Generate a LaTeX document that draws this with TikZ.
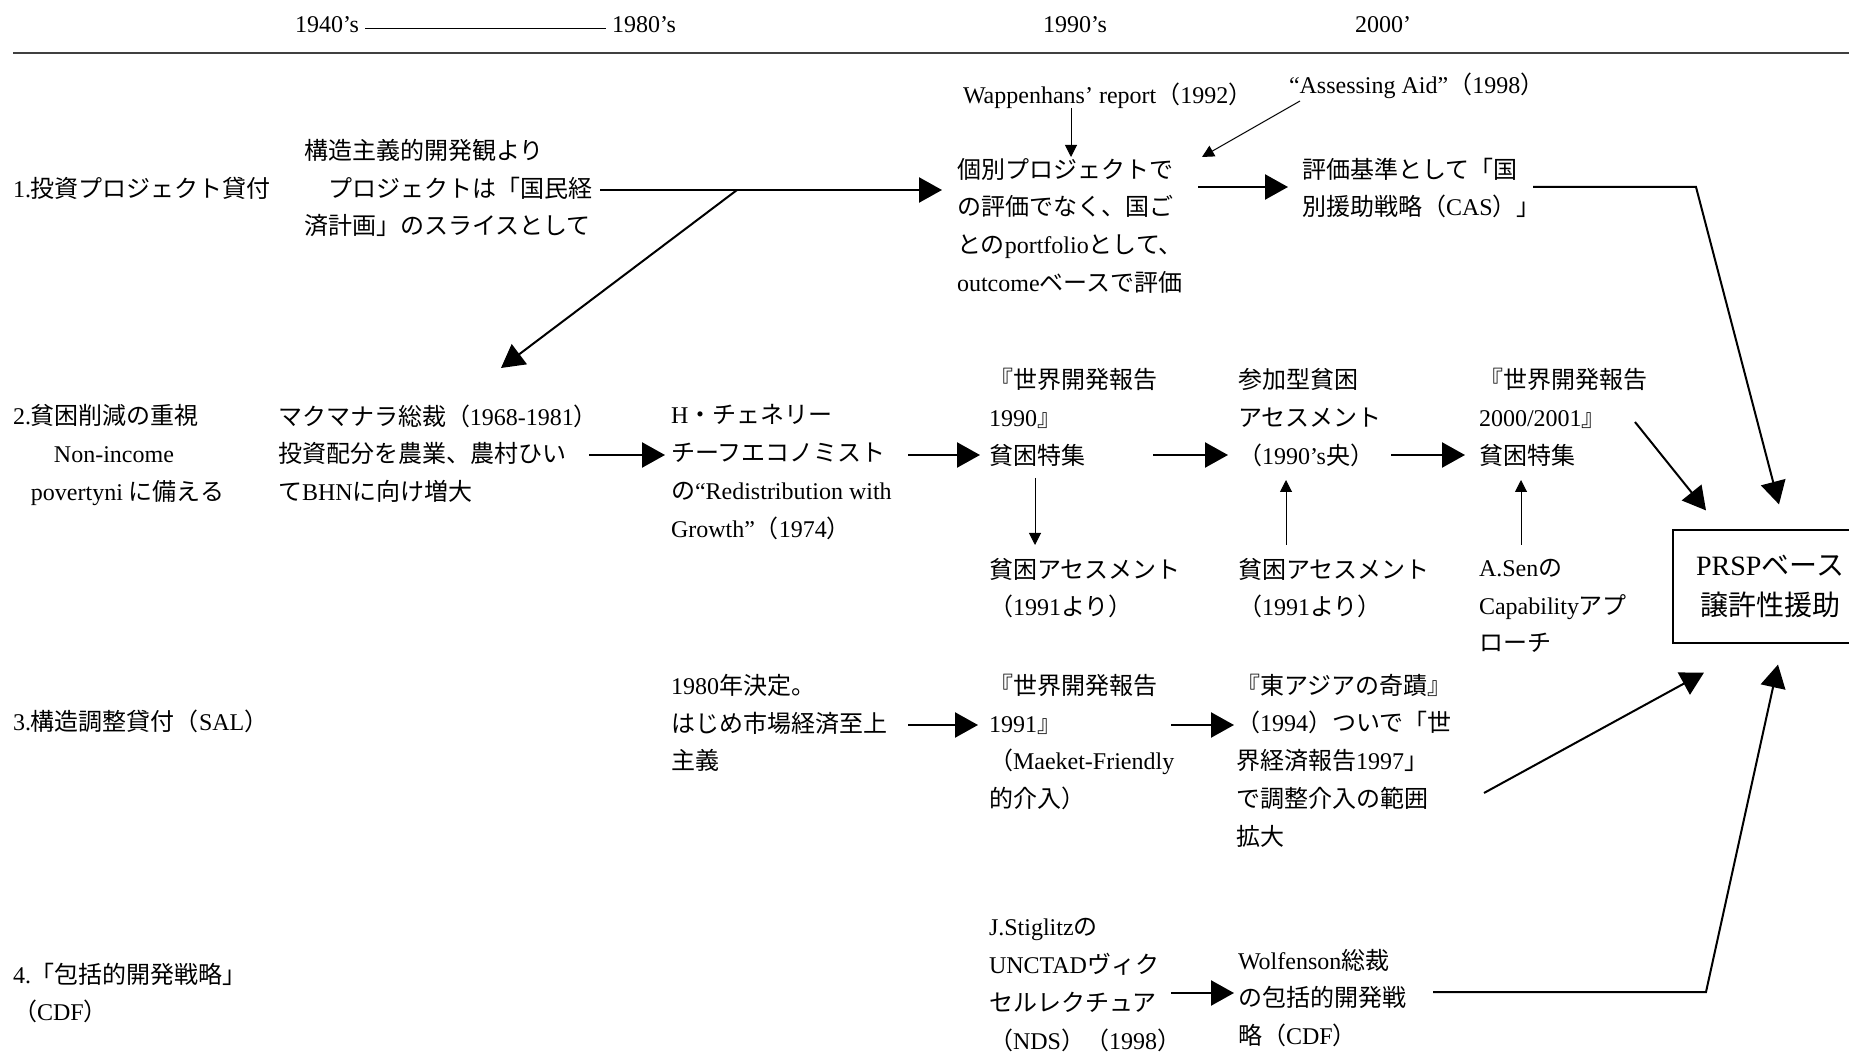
\documentclass[tikz,border=0pt]{standalone}
\usepackage{fontspec}
\setmainfont{Liberation Serif}
\newfontfamily\jpfont{Noto Sans CJK JP}
\usetikzlibrary{arrows.meta,calc}
% automatic switch between Latin (serif) and Japanese (gothic)
\XeTeXinterchartokenstate=1
\newXeTeXintercharclass\JPclass
\newcount\jpcnt
\def\setjprange#1#2{\jpcnt=#1\relax
  \loop\XeTeXcharclass\jpcnt=\JPclass
  \ifnum\jpcnt<#2\advance\jpcnt by 1\repeat}
\setjprange{"3000}{"30FF}
\setjprange{"4E00}{"9FFF}
\setjprange{"FF00}{"FFEF}
\XeTeXcharclass"2018=0 \XeTeXcharclass"2019=0
\XeTeXcharclass"201C=0 \XeTeXcharclass"201D=0
\XeTeXinterchartoks 0 \JPclass = {\jpfont}
\XeTeXinterchartoks 4095 \JPclass = {\jpfont}
\XeTeXinterchartoks \JPclass 0 = {\rmfamily}
\XeTeXinterchartoks \JPclass 4095 = {\rmfamily}
\tikzset{
  txt/.style={anchor=west, inner sep=0pt, outer sep=0pt, align=left,
    font=\fontsize{12}{18.85}\selectfont},
  yr/.style={inner sep=0pt, outer sep=0pt, font=\fontsize{12}{14}\selectfont},
  bigarrow/.style={line width=1.2pt, -{Triangle[length=11.5pt,width=12.5pt]}},
  midarrow/.style={line width=1pt, -{Triangle[length=11.5pt,width=12.5pt]}},
  thinarrow/.style={line width=0.5pt, -{Triangle[length=6pt,width=6pt]}},
  boxnode/.style={draw, line width=0.6pt, minimum width=97pt, minimum height=56.5pt,
    inner sep=0pt, align=center, font=\fontsize{14}{20}\selectfont},
}
\begin{document}
\begin{tikzpicture}[x=0.5pt,y=-0.5pt]
\useasboundingbox (0,0) rectangle (1849,1053);
\clip (0,0) rectangle (1849,1053);

% header
\node[yr, anchor=west] (y40) at (295,25) {1940’s};
\node[yr, anchor=west] (y80) at (612,25) {1980’s};
\node[yr] (y90) at (1075,25) {1990’s};
\node[yr] (y00) at (1383,25) {2000’};
\draw[line width=0.5pt] ($(y40.east)+(6,4)$) -- ($(y80.west)+(-6,4)$);
\coordinate (ruleL) at (13,53);
\coordinate (ruleR) at (1849,53);
\draw[line width=1pt, black!75] (ruleL) -- (ruleR);

% row 1
\node[txt] (r1) at (13,188) {1.投資プロジェクト貸付};
\node[txt] (a1) at (304,188) {構造主義的開発観より\\　プロジェクトは「国民経\\済計画」のスライスとして};
\node[txt] (b1) at (957,225.5) {個別プロジェクトで\\の評価でなく、国ご\\とのportfolioとして、\\outcomeベースで評価};
\node[txt] (wap) at (963,96) {Wappenhans’ report（1992）};
\node[txt] (ass) at (1289,86) {“Assessing Aid”（1998）};
\node[txt] (c1) at (1302,188) {評価基準として「国\\別援助戦略（CAS）」};

% row 2
\node[txt] (r2) at (13,455) {2.貧困削減の重視\\\hspace*{20.5pt}Non-income\\\hspace*{9pt}povertyni に備える};
\node[txt] (a2) at (278,453.5) {マクマナラ総裁（1968-1981）\\投資配分を農業、農村ひい\\てBHNに向け増大};
\node[txt] (b2) at (671,472) {H・チェネリー\\チーフエコノミスト\\の“Redistribution with\\Growth”（1974）};
\node[txt] (c2) at (989,417.5) {『世界開発報告\\1990』\\貧困特集};
\node[txt] (c2b) at (989,588) {貧困アセスメント\\（1991より）};
\node[txt] (d2) at (1238,417.5) {参加型貧困\\アセスメント\\（1990’s央）};
\node[txt] (d2b) at (1238,588) {貧困アセスメント\\（1991より）};
\node[txt] (e2) at (1479,417.5) {『世界開発報告\\2000/2001』\\貧困特集};
\node[txt] (e2b) at (1479,606) {A.Senの\\Capabilityアプ\\ローチ};
\node[boxnode] (prsp) at (1770,586.5) {PRSPベース\\譲許性援助};

% row 3
\node[txt] (r3) at (13,721) {3.構造調整貸付（SAL）};
\node[txt] (a3) at (671,723) {1980年決定。\\はじめ市場経済至上\\主義};
\node[txt] (b3) at (989,742) {『世界開発報告\\1991』\\（Maeket-Friendly\\的介入）};
\node[txt] (c3) at (1236,760.5) {『東アジアの奇蹟』\\（1994）ついで「世\\界経済報告1997」\\で調整介入の範囲\\拡大};

% row 4
\node[txt] (r4) at (13,993) {4.「包括的開発戦略」\\（CDF）};
\node[txt] (b4) at (989,985) {J.Stiglitzの\\UNCTADヴィク\\セルレクチュア\\（NDS）（1998）};
\node[txt] (c4) at (1238,998) {Wolfenson総裁\\の包括的開発戦\\略（CDF）};

% connector end points
\coordinate (a1r) at (600,190);  \coordinate (b1l) at (942,190);
\coordinate (fork) at (737,190); \coordinate (a2t) at (501,368);
\coordinate (wapb) at (1071,108); \coordinate (b1t) at (1071,157);
\coordinate (assb) at (1300,101); \coordinate (b1tr) at (1202,157);
\coordinate (b1r) at (1198,187); \coordinate (c1l) at (1288,187);
\coordinate (c1r) at (1533,187); \coordinate (c1k) at (1696,187);
\coordinate (a2r) at (589,455);  \coordinate (b2l) at (665,455);
\coordinate (b2r) at (908,455);  \coordinate (c2l) at (980,455);
\coordinate (c2d) at (1035,478); \coordinate (c2bt) at (1035,545);
\coordinate (c2r) at (1153,455); \coordinate (d2l) at (1228,455);
\coordinate (d2bt) at (1286,545); \coordinate (d2d) at (1286,480);
\coordinate (d2r) at (1391,455); \coordinate (e2l) at (1465,455);
\coordinate (e2bt) at (1521,545); \coordinate (e2d) at (1521,480);
\coordinate (e2r) at (1635,422);
\coordinate (a3r) at (908,725);  \coordinate (b3l) at (978,725);
\coordinate (b3r) at (1171,725); \coordinate (c3l) at (1234,725);
\coordinate (c3r) at (1484,793);
\coordinate (b4r) at (1171,993); \coordinate (c4l) at (1234,993);
\coordinate (c4r) at (1433,992); \coordinate (c4k) at (1706,992);

% connectors
\draw[bigarrow] (a1r) -- (b1l);
\draw[midarrow] (fork) -- (a2t);
\draw[thinarrow] (wapb) -- (b1t);
\draw[thinarrow] (assb) -- (b1tr);
\draw[bigarrow] (b1r) -- (c1l);
\draw[midarrow] (c1r) -- (c1k) -- ($(prsp.north)+(9,-25)$);
\draw[bigarrow] (a2r) -- (b2l);
\draw[bigarrow] (b2r) -- (c2l);
\draw[thinarrow] (c2d) -- (c2bt);
\draw[bigarrow] (c2r) -- (d2l);
\draw[thinarrow] (d2bt) -- (d2d);
\draw[bigarrow] (d2r) -- (e2l);
\draw[thinarrow] (e2bt) -- (e2d);
\draw[midarrow] (e2r) -- ($(prsp.north)+(-64,-19)$);
\draw[bigarrow] (a3r) -- (b3l);
\draw[bigarrow] (b3r) -- (c3l);
\draw[midarrow] (c3r) -- ($(prsp.south)+(-66,29)$);
\draw[bigarrow] (b4r) -- (c4l);
\draw[midarrow] (c4r) -- (c4k) -- ($(prsp.south)+(8,21)$);
\end{tikzpicture}
\end{document}
